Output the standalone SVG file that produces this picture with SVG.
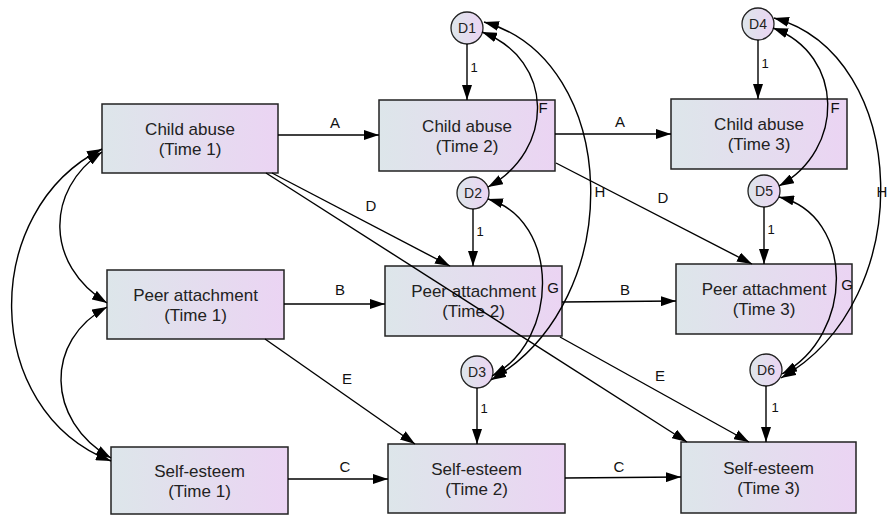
<svg xmlns="http://www.w3.org/2000/svg" width="889" height="515" viewBox="0 0 889 515">
<defs>
<linearGradient id="fillg" x1="0" y1="0" x2="1" y2="0">
<stop offset="0" stop-color="#dde6ea"/>
<stop offset="1" stop-color="#ebd4f3"/>
</linearGradient>
<marker id="arr" viewBox="0 0 15 10" refX="15" refY="5" markerWidth="15" markerHeight="10" markerUnits="userSpaceOnUse" orient="auto-start-reverse">
<path d="M0,0 L15,5 L0,10 z" fill="#000"/>
</marker>
</defs>
<style>
.box{fill:url(#fillg);stroke:#222;stroke-width:1.5}
.circ{fill:url(#fillg);stroke:#222;stroke-width:1.3}
.t{font-family:"Liberation Sans",Arial,sans-serif;font-size:17px;fill:#222;text-anchor:middle}
.dt{font-family:"Liberation Sans",Arial,sans-serif;font-size:14px;fill:#222;text-anchor:middle}
.lb{font-family:"Liberation Sans",Arial,sans-serif;font-size:15px;fill:#111;text-anchor:middle}
.one{font-family:"Liberation Sans",Arial,sans-serif;font-size:13px;fill:#111;text-anchor:middle}
.ln{fill:none;stroke:#000;stroke-width:1.4;marker-end:url(#arr)}
.cv{fill:none;stroke:#000;stroke-width:1.4;marker-start:url(#arr);marker-end:url(#arr)}
</style>
<rect width="889" height="515" fill="#fff"/>
<g id="ca1"><rect class="box" x="102" y="104" width="176" height="69"/><text class="t" x="190" y="135">Child abuse</text><text class="t" x="190" y="155">(Time 1)</text></g>
<g id="ca2"><rect class="box" x="379" y="100" width="176" height="71"/><text class="t" x="467" y="132">Child abuse</text><text class="t" x="467" y="152">(Time 2)</text></g>
<g id="ca3"><rect class="box" x="671" y="99" width="176" height="70"/><text class="t" x="759" y="130">Child abuse</text><text class="t" x="759" y="150">(Time 3)</text></g>
<g id="pa1"><rect class="box" x="107" y="270" width="177" height="69"/><text class="t" x="195.5" y="301">Peer attachment</text><text class="t" x="195.5" y="321">(Time 1)</text></g>
<g id="pa2"><rect class="box" x="385" y="266" width="177" height="70"/><text class="t" x="473.5" y="297">Peer attachment</text><text class="t" x="473.5" y="317">(Time 2)</text></g>
<g id="pa3"><rect class="box" x="676" y="264" width="176" height="70"/><text class="t" x="764" y="295">Peer attachment</text><text class="t" x="764" y="315">(Time 3)</text></g>
<g id="se1"><rect class="box" x="111" y="447" width="177" height="67"/><text class="t" x="199.5" y="477">Self-esteem</text><text class="t" x="199.5" y="497">(Time 1)</text></g>
<g id="se2"><rect class="box" x="388" y="444" width="177" height="69"/><text class="t" x="476.5" y="475">Self-esteem</text><text class="t" x="476.5" y="495">(Time 2)</text></g>
<g id="se3"><rect class="box" x="681" y="442" width="175" height="71"/><text class="t" x="768.5" y="474">Self-esteem</text><text class="t" x="768.5" y="494">(Time 3)</text></g>
<g id="d1"><circle class="circ" cx="467" cy="28" r="16"/><text class="dt" x="467" y="33">D1</text></g>
<g id="d2"><circle class="circ" cx="473" cy="193" r="16"/><text class="dt" x="473" y="198">D2</text></g>
<g id="d3"><circle class="circ" cx="477" cy="372" r="16"/><text class="dt" x="477" y="377">D3</text></g>
<g id="d4"><circle class="circ" cx="758" cy="24" r="16"/><text class="dt" x="758" y="29">D4</text></g>
<g id="d5"><circle class="circ" cx="764" cy="191" r="16"/><text class="dt" x="764" y="196">D5</text></g>
<g id="d6"><circle class="circ" cx="766" cy="370" r="16"/><text class="dt" x="766" y="375">D6</text></g>
<g id="connectors">
<line class="ln" x1="467" y1="44" x2="467" y2="100"/>
<line class="ln" x1="758" y1="40" x2="758" y2="99"/>
<line class="ln" x1="473" y1="209" x2="473" y2="266"/>
<line class="ln" x1="764" y1="207" x2="764" y2="264"/>
<line class="ln" x1="477" y1="388" x2="477" y2="444"/>
<line class="ln" x1="766" y1="386" x2="766" y2="442"/>
<line class="ln" x1="278" y1="135" x2="379" y2="135"/>
<line class="ln" x1="555" y1="134" x2="671" y2="134"/>
<line class="ln" x1="284" y1="304" x2="385" y2="304"/>
<line class="ln" x1="562" y1="302" x2="676" y2="301"/>
<line class="ln" x1="288" y1="479" x2="388" y2="479"/>
<line class="ln" x1="565" y1="478" x2="681" y2="477"/>
<line class="ln" x1="272" y1="173" x2="450" y2="266"/>
<line class="ln" x1="266" y1="173" x2="687" y2="442"/>
<line class="ln" x1="556" y1="163" x2="752" y2="264"/>
<line class="ln" x1="265" y1="339" x2="415" y2="444"/>
<line class="ln" x1="560" y1="337" x2="749" y2="442"/>
<path class="cv" d="M102,152 C45,190 45,265 107,303"/>
<path class="cv" d="M107,307 C45,340 45,420 111,458"/>
<path class="cv" d="M102,149 C-20,210 -20,410 111,461"/>
<path class="cv" d="M482,32 C555,60 555,150 488,187"/>
<path class="cv" d="M484,22 C620,60 630,300 491,380"/>
<path class="cv" d="M488,199 C560,220 560,340 492,376"/>
<path class="cv" d="M773,28 C845,55 845,150 779,186"/>
<path class="cv" d="M774,18 C910,55 920,300 781,378"/>
<path class="cv" d="M779,197 C855,215 855,335 782,374"/>
<text class="lb" x="335" y="128">A</text>
<text class="lb" x="620" y="127">A</text>
<text class="lb" x="340" y="295">B</text>
<text class="lb" x="625" y="295">B</text>
<text class="lb" x="345" y="472">C</text>
<text class="lb" x="619" y="472">C</text>
<text class="lb" x="371" y="211">D</text>
<text class="lb" x="663" y="203">D</text>
<text class="lb" x="347" y="384">E</text>
<text class="lb" x="660" y="381">E</text>
<text class="lb" x="543" y="113">F</text>
<text class="lb" x="835" y="113">F</text>
<text class="lb" x="553" y="293">G</text>
<text class="lb" x="847" y="290">G</text>
<text class="lb" x="600" y="197">H</text>
<text class="lb" x="882" y="197">H</text>
<text class="one" x="474" y="72">1</text>
<text class="one" x="765" y="68">1</text>
<text class="one" x="480" y="236">1</text>
<text class="one" x="771" y="234">1</text>
<text class="one" x="484" y="413">1</text>
<text class="one" x="775" y="412">1</text>
</g>
</svg>
